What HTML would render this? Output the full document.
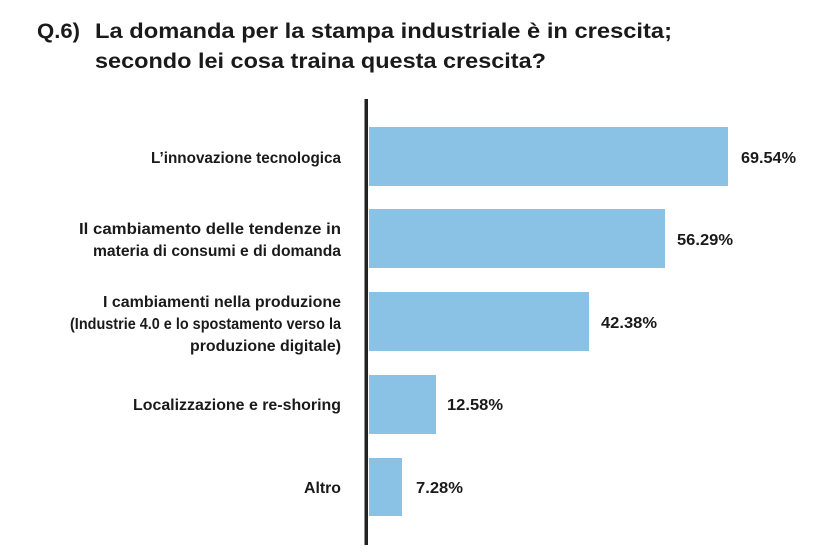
<!DOCTYPE html>
<html><head><meta charset="utf-8"><style>
html,body{margin:0;padding:0;background:#fff;width:838px;height:557px;overflow:hidden}
svg{display:block}
text{font-family:"Liberation Sans",sans-serif;font-weight:bold;fill:#1a1a1a}
</style></head><body>
<svg width="838" height="557" viewBox="0 0 838 557">
<g font-size="21.5">
<text x="37" y="38" textLength="43" lengthAdjust="spacingAndGlyphs">Q.6)</text>
<text x="95" y="38" textLength="577" lengthAdjust="spacingAndGlyphs">La domanda per la stampa industriale è in crescita;</text>
<text x="95" y="68" textLength="451" lengthAdjust="spacingAndGlyphs">secondo lei cosa traina questa crescita?</text>
</g>
<g fill="#8ac2e5">
<rect x="369" y="127" width="359" height="59"/>
<rect x="369" y="209" width="296" height="59"/>
<rect x="369" y="292" width="220" height="59"/>
<rect x="369" y="375" width="67" height="59"/>
<rect x="369" y="458" width="33" height="58"/>
</g>
<rect x="364.5" y="99" width="3.5" height="446" fill="#222"/>
<g font-size="15.5" text-anchor="end">
<text x="341" y="163" textLength="190" lengthAdjust="spacingAndGlyphs">L’innovazione tecnologica</text>
<text x="341" y="234" textLength="262" lengthAdjust="spacingAndGlyphs">Il cambiamento delle tendenze in</text>
<text x="341" y="256" textLength="248" lengthAdjust="spacingAndGlyphs">materia di consumi e di domanda</text>
<text x="341" y="307" textLength="238" lengthAdjust="spacingAndGlyphs">I cambiamenti nella produzione</text>
<text x="341" y="329" textLength="271" lengthAdjust="spacingAndGlyphs">(Industrie 4.0 e lo spostamento verso la</text>
<text x="341" y="351" textLength="151" lengthAdjust="spacingAndGlyphs">produzione digitale)</text>
<text x="341" y="410" textLength="208" lengthAdjust="spacingAndGlyphs">Localizzazione e re-shoring</text>
<text x="341" y="493" textLength="37" lengthAdjust="spacingAndGlyphs">Altro</text>
</g>
<g font-size="16">
<text x="741" y="163" textLength="55" lengthAdjust="spacingAndGlyphs">69.54%</text>
<text x="677" y="245" textLength="56" lengthAdjust="spacingAndGlyphs">56.29%</text>
<text x="601" y="328" textLength="56" lengthAdjust="spacingAndGlyphs">42.38%</text>
<text x="447" y="410" textLength="56" lengthAdjust="spacingAndGlyphs">12.58%</text>
<text x="416" y="493" textLength="47" lengthAdjust="spacingAndGlyphs">7.28%</text>
</g>
</svg>
</body></html>
